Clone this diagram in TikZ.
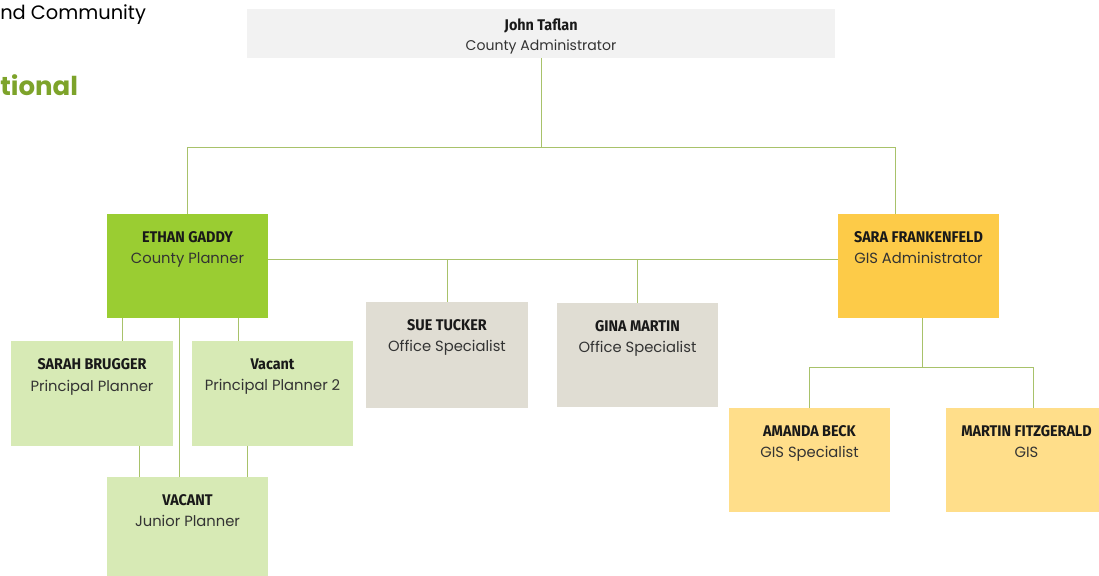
\documentclass[tikz,border=0pt]{standalone}
\usepackage{fontspec}
\setmainfont{Poppins}
\newfontfamily\namefont[FakeStretch=0.93]{Fira Sans}
\usetikzlibrary{positioning,calc}

\definecolor{linkgreen}{HTML}{A8C26A}
\definecolor{headgray}{HTML}{F2F2F2}
\definecolor{leadgreen}{HTML}{9ACD32}
\definecolor{palegreen}{HTML}{D7EAB5}
\definecolor{stone}{HTML}{E0DDD3}
\definecolor{gold}{HTML}{FDCB48}
\definecolor{palegold}{HTML}{FFDE8A}
\definecolor{titlegray}{HTML}{333333}
\definecolor{deptgreen}{HTML}{7DA32A}

\newcommand{\boxname}[2][11]{{\namefont\bfseries\fontsize{#1}{15}\selectfont\color{black!90} #2}}

\tikzset{
    box/.style={inner sep=0pt, outer sep=0pt, minimum width=4.025cm, minimum height=2.6cm},
    link/.style={draw=linkgreen, line width=0.7pt},
    caption/.style={align=center, inner sep=0pt, text=titlegray, font=\fontsize{10.5}{15}\selectfont},
    heading/.style={inner sep=0pt, font=\fontsize{13.8}{16}\selectfont},
}

\begin{document}
\begin{tikzpicture}[x=0.025cm, y=-0.025cm]
    \useasboundingbox (0,0) rectangle (1099,575);
    \clip (0,0) rectangle (1099,575);

    % department heading (cut off at the left)
    \node[heading, anchor=west] (deptname) at (0,15) {nd Community};
    \node[heading, anchor=west, text=deptgreen, font=\fontsize{18.5}{20}\selectfont\bfseries] (deptsub) at (0,85) {tional};

    % boxes
    \node[box, fill=headgray, minimum width=14.7cm, minimum height=1.225cm] (john) at (541,33.5) {};
    \node[box, fill=leadgreen] (ethan) at (187.5,266) {};
    \node[box, fill=gold] (sara) at (918.5,266) {};
    \node[box, fill=stone, minimum height=2.65cm] (sue) at (447,355) {};
    \node[box, fill=stone, minimum height=2.6cm] (gina) at (637.5,355) {};
    \node[box, fill=palegreen] (sarah) at (92,393.5) {};
    \node[box, fill=palegreen] (vacant) at (272.5,393.5) {};
    \node[box, fill=palegreen] (junior) at (187.5,529) {};
    \node[box, fill=palegold] (amanda) at (809.5,460) {};
    \node[box, fill=palegold] (martin) at (1026.5,460) {};

    % captions
    \node[caption, font=\fontsize{10}{14.5}\selectfont, below=2.3mm of john.north] (johntext) {\boxname{John Taflan}\\County Administrator};
    \node[caption, below=4.3mm of ethan.north] (ethantext) {\boxname{ETHAN GADDY}\\County Planner};
    \node[caption, below=4.3mm of sara.north] (saratext) {\boxname{SARA FRANKENFELD}\\GIS Administrator};
    \node[caption, below=4.3mm of sue.north] (suetext) {\boxname{SUE TUCKER}\\Office Specialist};
    \node[caption, below=4.3mm of gina.north] (ginatext) {\boxname{GINA MARTIN}\\Office Specialist};
    \node[caption, below=4.3mm of sarah.north] (sarahtext) {\boxname{SARAH BRUGGER}\\Principal Planner};
    \node[caption, below=4.3mm of vacant.north] (vacanttext) {\boxname{Vacant}\\Principal Planner 2};
    \node[caption, below=4.3mm of junior.north] (juniortext) {\boxname{VACANT}\\Junior Planner};
    \node[caption, below=4.3mm of amanda.north] (amandatext) {\boxname{AMANDA BECK}\\GIS Specialist};
    \node[caption, below=4.3mm of martin.north] (martintext) {\boxname{MARTIN FITZGERALD}\\GIS};

    % top level
    \coordinate (topbus) at ($(john.south)+(0,89)$);
    \coordinate (sarain) at ($(sara.north)+(-23,0)$);
    \draw[link] (john.south) -- (topbus);
    \draw[link] (ethan.north) |- (topbus) -| (sarain);

    % office line
    \coordinate (midbus) at ($(ethan.east)+(0,-7)$);
    \draw[link] (midbus) -- (midbus -| sara.west);
    \draw[link] (sue.north) -- (sue.north |- midbus);
    \draw[link] (gina.north) -- (gina.north |- midbus);

    % planners
    \coordinate (e1) at ($(ethan.south)+(-65.5,0)$);
    \coordinate (e2) at ($(ethan.south)+(50.5,0)$);
    \coordinate (e3) at ($(ethan.south)+(-8.5,0)$);
    \coordinate (s1) at ($(sarah.south)+(47,0)$);
    \coordinate (p1) at ($(vacant.south)+(-25.5,0)$);
    \draw[link] (e1) -- (e1 |- sarah.north);
    \draw[link] (e2) -- (e2 |- vacant.north);
    \draw[link] (e3) -- (e3 |- junior.north);
    \draw[link] (s1) -- (s1 |- junior.north);
    \draw[link] (p1) -- (p1 |- junior.north);

    % GIS
    \coordinate (gisbus) at ($(sara.south)+(3.5,49)$);
    \draw[link] (sara.south -| gisbus) -- (gisbus);
    \draw[link] (amanda.north) |- (gisbus) -| ($(martin.north)+(6.5,0)$);
\end{tikzpicture}
\end{document}
